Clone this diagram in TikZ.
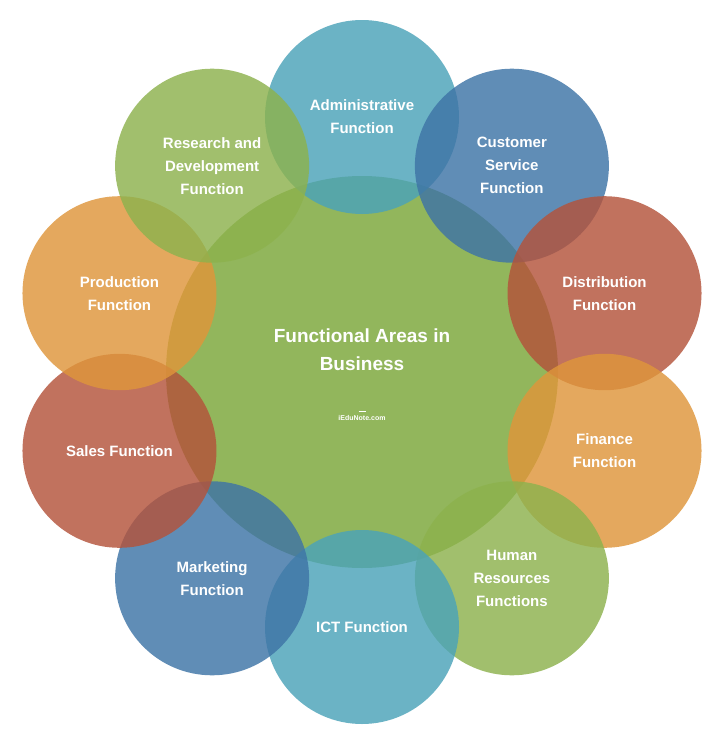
\documentclass[tikz,border=0pt]{standalone}
\usepackage{fontspec}
\setmainfont{Liberation Sans}
\usetikzlibrary{calc}
\definecolor{tealc}{HTML}{4BA3B9}
\definecolor{bluec}{HTML}{3E74A6}
\definecolor{rustc}{HTML}{B4533B}
\definecolor{orangec}{HTML}{DF963B}
\definecolor{greenc}{HTML}{8DB24D}
\definecolor{corec}{HTML}{92B65C}
\tikzset{
  area/.style={circle, minimum size=194pt, inner sep=0pt, fill opacity=0.82,
    text opacity=1, text=white, font=\bfseries\fontsize{15}{23}\selectfont, align=center},
}
\begin{document}
\begin{tikzpicture}[x=1pt,y=-1pt]
\useasboundingbox (0,0) rectangle (720,747);
\fill[white] (0,0) rectangle (720,747);
% central area
\node[area, minimum size=392pt, fill=corec, fill opacity=1] (core) at (362,372) {};
% outer functions
\foreach \ang/\col/\txt/\name in {
  90/tealc/{Administrative\\Function}/adm,
  54/bluec/{Customer\\Service\\Function}/cus,
  18/rustc/{Distribution\\Function}/dis,
  -18/orangec/{Finance\\Function}/fin,
  -54/greenc/{Human\\Resources\\Functions}/hrm,
  -90/tealc/{ICT Function}/ict,
  -126/bluec/{Marketing\\Function}/mkt,
  -162/rustc/{Sales Function}/sal,
  162/orangec/{Production\\Function}/pro,
  126/greenc/{Research and\\Development\\Function}/rnd}
{
  \node[area, fill=\col] (\name) at ($(core.center)+(\ang:255 and -255)$) {\txt};
}
\node[text=white, font=\bfseries\fontsize{19}{28}\selectfont, align=center] (title) at ($(core.center)+(0,-22)$) {Functional Areas in\\Business};
\node[text=white, font=\bfseries\fontsize{7}{8}\selectfont] (mark) at ($(core.center)+(0,46)$) {iEduNote.com};
\draw[white, line width=0.8pt] ($(mark.north)+(-3.5,-1)$) -- ($(mark.north)+(3.5,-1)$);
\end{tikzpicture}
\end{document}
